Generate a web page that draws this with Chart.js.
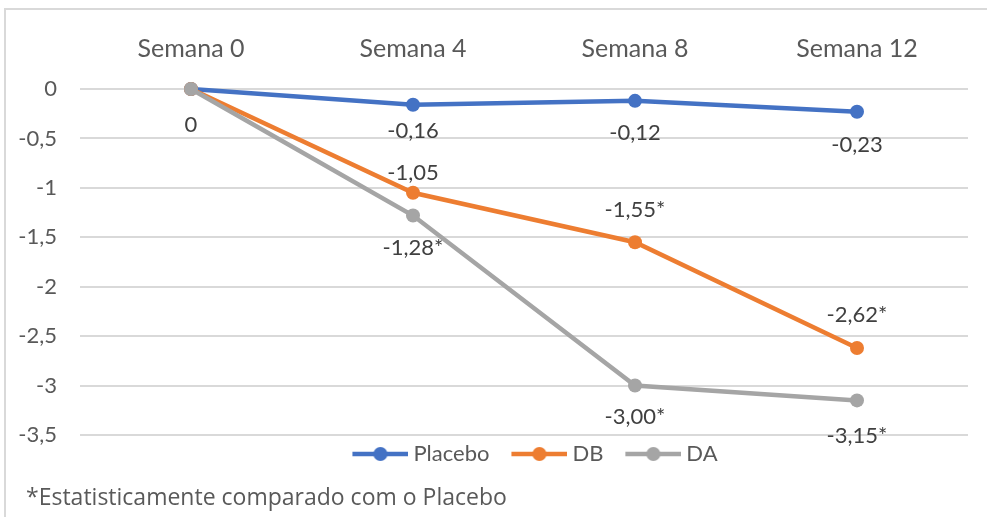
<!DOCTYPE html>
<html>
<head>
<meta charset="utf-8">
<script src="https://cdn.jsdelivr.net/npm/chart.js@4"></script>
<style>
    html, body { margin: 0; padding: 0; background: #fff; }
    #wrap { position: relative; width: 987px; height: 517px; overflow: hidden; }
    #frame { position: absolute; left: 4px; top: 8px; width: 1000px; height: 600px; border: 2px solid #d9d9d9; box-sizing: border-box; }
    #chart { position: absolute; left: 0; top: 0; }
    #note { position: absolute; left: 26px; top: 480px; font: 23px "Open Sans", sans-serif; color: #595959; white-space: nowrap; }
</style>
</head>
<body>
<div id="wrap">
    <div id="frame"></div>
    <canvas id="chart" width="987" height="517"></canvas>
    <div id="note">*Estatisticamente comparado com o Placebo</div>
</div>
<script>
const weeks = ['Semana 0', 'Semana 4', 'Semana 8', 'Semana 12'];

const placeboValues = [0, -0.16, -0.12, -0.23];
const dbValues = [0, -1.05, -1.55, -2.62];
const daValues = [0, -1.28, -3.00, -3.15];

const placeboLabels = ['0', '-0,16', '-0,12', '-0,23'];
const dbLabels = ['', '-1,05', '-1,55*', '-2,62*'];
const daLabels = ['', '-1,28*', '-3,00*', '-3,15*'];

// label placement relative to the point (px, + is below)
const placeboOffsets = [36, 26, 32, 33];
const dbOffsets = [0, -20, -32, -33];
const daOffsets = [0, 32, 31, 36];

const FONT = 'Lato';
const TEXT_COLOR = '#595959';

// legend marker: line with a dot, padded on the left so the gap to the text stays small
function legendIcon(color) {
    const c = document.createElement('canvas');
    c.width = 76;
    c.height = 16;
    const g = c.getContext('2d');
    g.strokeStyle = color;
    g.lineWidth = 4.5;
    g.beginPath();
    g.moveTo(20, 8);
    g.lineTo(76, 8);
    g.stroke();
    g.fillStyle = color;
    g.beginPath();
    g.arc(48, 8, 7, 0, Math.PI * 2);
    g.fill();
    return c;
}

function makeDataset(label, data, color, texts, offsets, order) {
    return {
        label,
        data,
        borderColor: color,
        backgroundColor: color,
        borderWidth: 4.5,
        pointRadius: 7,
        pointBorderWidth: 0,
        pointHoverRadius: 7,
        tension: 0,
        clip: false,
        order,
        _texts: texts,
        _offsets: offsets,
        _icon: legendIcon(color)
    };
}

const pointLabels = {
    id: 'pointLabels',
    afterDatasetsDraw(chart) {
        const ctx = chart.ctx;
        ctx.save();
        ctx.font = `22px ${FONT}`;
        ctx.fillStyle = '#404040';
        ctx.textAlign = 'center';
        ctx.textBaseline = 'middle';
        chart.data.datasets.forEach((ds, i) => {
            const meta = chart.getDatasetMeta(i);
            meta.data.forEach((pt, j) => {
                const text = ds._texts[j];
                if (!text) return;
                ctx.fillText(text, pt.x, pt.y + ds._offsets[j]);
            });
        });
        ctx.restore();
    }
};

// center the legend over the plot area instead of the whole canvas
const legendShift = {
    id: 'legendShift',
    afterLayout(chart) {
        const area = chart.chartArea;
        const legend = chart.legend;
        const dx = (area.left + area.right) / 2 - (legend.left + legend.right) / 2 + 4;
        legend.left += dx;
        legend.right += dx;
    }
};

new Chart(document.getElementById('chart'), {
    type: 'line',
    data: {
        labels: weeks,
        datasets: [
            makeDataset('Placebo', placeboValues, '#4472C4', placeboLabels, placeboOffsets, 2),
            makeDataset('DB', dbValues, '#ED7D31', dbLabels, dbOffsets, 1),
            makeDataset('DA', daValues, '#A5A5A5', daLabels, daOffsets, 0)
        ]
    },
    options: {
        responsive: false,
        animation: false,
        events: [],
        layout: { padding: { top: 0, right: 19, bottom: 42, left: 0 } },
        plugins: {
            tooltip: { enabled: false },
            legend: {
                position: 'bottom',
                labels: {
                    color: TEXT_COLOR,
                    font: { family: FONT, size: 22 },
                    usePointStyle: true,
                    pointStyleWidth: 64,
                    padding: 8,
                    sort: (a, b) => a.datasetIndex - b.datasetIndex,
                    generateLabels: (chart) => {
                        const items = Chart.defaults.plugins.legend.labels.generateLabels(chart);
                        items.forEach((item) => {
                            item.pointStyle = chart.data.datasets[item.datasetIndex]._icon;
                        });
                        return items;
                    }
                }
            }
        },
        scales: {
            x: {
                position: 'top',
                offset: true,
                grid: { display: false, drawTicks: false },
                border: { display: false },
                ticks: {
                    color: TEXT_COLOR,
                    font: { family: FONT, size: 25 },
                    padding: 25
                },
                afterFit: (scale) => { scale.height = 89; }
            },
            y: {
                min: -3.5,
                max: 0,
                grid: { color: '#d9d9d9', lineWidth: 2, drawTicks: false },
                border: { display: false },
                ticks: {
                    stepSize: 0.5,
                    color: TEXT_COLOR,
                    font: { family: FONT, size: 22 },
                    padding: 23,
                    callback: (value) => String(value).replace('.', ',')
                },
                afterFit: (scale) => { scale.width = 80; }
            }
        }
    },
    plugins: [pointLabels, legendShift]
});
</script>
</body>
</html>
